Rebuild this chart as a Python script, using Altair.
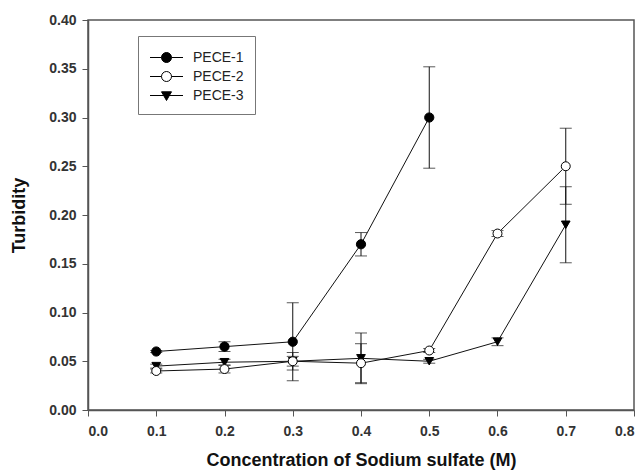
import altair as alt
import pandas as pd

# ---- data ----
series_names = ["PECE-1", "PECE-2", "PECE-3"]

pece1_x = [0.1, 0.2, 0.3, 0.4, 0.5]
pece1_y = [0.060, 0.065, 0.070, 0.170, 0.300]
pece1_err = [0.001, 0.005, 0.040, 0.012, 0.052]

pece2_x = [0.1, 0.2, 0.3, 0.4, 0.5, 0.6, 0.7]
pece2_y = [0.040, 0.042, 0.050, 0.048, 0.061, 0.181, 0.250]
pece2_err = [0.002, 0.004, 0.009, 0.020, 0.002, 0.003, 0.039]

pece3_x = [0.1, 0.2, 0.3, 0.4, 0.5, 0.6, 0.7]
pece3_y = [0.045, 0.049, 0.050, 0.053, 0.050, 0.070, 0.190]
pece3_err = [0.002, 0.003, 0.005, 0.026, 0.002, 0.004, 0.039]

x_ticks = [0.0, 0.1, 0.2, 0.3, 0.4, 0.5, 0.6, 0.7, 0.8]
y_ticks = [0.0, 0.05, 0.10, 0.15, 0.20, 0.25, 0.30, 0.35, 0.40]

rows = []
for name, xs, ys, es in [
    ("PECE-1", pece1_x, pece1_y, pece1_err),
    ("PECE-2", pece2_x, pece2_y, pece2_err),
    ("PECE-3", pece3_x, pece3_y, pece3_err),
]:
    for x, y, e in zip(xs, ys, es):
        rows.append({"series": name, "x": x, "y": y, "lo": y - e, "hi": y + e})
df = pd.DataFrame(rows)

caps = pd.concat([
    df[["series", "x", "lo"]].rename(columns={"lo": "cap"}),
    df[["series", "x", "hi"]].rename(columns={"hi": "cap"}),
])

FONT = "Liberation Sans"
INK = "#111111"

xscale = alt.Scale(domain=[0, 0.8], nice=False)
yscale = alt.Scale(domain=[0, 0.4], nice=False)

xenc = alt.X("x:Q", scale=xscale,
             axis=alt.Axis(values=x_ticks, format=".1f",
                           title="Concentration of Sodium sulfate (M)"))
yenc = alt.Y("y:Q", scale=yscale,
             axis=alt.Axis(values=y_ticks, format=".2f", title="Turbidity"))

base = alt.Chart(df)

lines = base.mark_line(color=INK, strokeWidth=1).encode(
    x=xenc, y=yenc, detail="series:N")

rules = base.mark_rule(color=INK, strokeWidth=1).encode(
    x="x:Q", y="lo:Q", y2="hi:Q")

cap_marks = alt.Chart(caps).mark_tick(
    orient="horizontal", size=12, thickness=1, color=INK).encode(
    x="x:Q", y="cap:Q")

pts1 = base.transform_filter(alt.datum.series == "PECE-1").mark_point(
    shape="circle", filled=True, fill="black", stroke="black",
    strokeWidth=1, size=85, opacity=1).encode(x="x:Q", y="y:Q")
pts3 = base.transform_filter(alt.datum.series == "PECE-3").mark_point(
    shape="triangle-down", filled=True, fill="black", stroke="black",
    strokeWidth=1, size=75, opacity=1).encode(x="x:Q", y="y:Q")
pts2 = base.transform_filter(alt.datum.series == "PECE-2").mark_point(
    shape="circle", filled=True, fill="white", stroke="black",
    strokeWidth=1, size=80, opacity=1).encode(x="x:Q", y="y:Q")

# legend symbols: line segment with marker (custom paths)
s = 0.7
r = 0.5
L = 1.65
circ = (f"M{-L+s},0H{s-r}M{s+r},0H{L+s}"
        f"M{s+r},0A{r},{r} 0 1,1 {s-r},0A{r},{r} 0 1,1 {s+r},0Z")
tri = (f"M{-L+s},0H{L+s}"
       f"M{s-0.5},-0.37L{s+0.5},-0.37L{s},0.5Z")
legend_paths = [circ, circ, tri]
legend_fills = ["black", "white", "black"]
legend_strokes = ["black", "black", "black"]


def make_legend():
    return alt.Legend(title=None, orient="none",
                      legendX=50, legendY=16,
                      strokeColor="#777", padding=11,
                      symbolSize=400, rowPadding=1,
                      labelOffset=23, labelFont=FONT,
                      labelFontSize=14, labelColor="#222",
                      symbolStrokeColor="black",
                      symbolStrokeWidth=1)


legend_layer = base.transform_filter("false").mark_point(
    filled=True, stroke="black", strokeWidth=1, opacity=1).encode(
    x="x:Q", y="y:Q",
    shape=alt.Shape("series:N",
                    scale=alt.Scale(domain=series_names, range=legend_paths),
                    legend=make_legend()),
    fill=alt.Fill("series:N",
                  scale=alt.Scale(domain=series_names, range=legend_fills),
                  legend=make_legend()),
    stroke=alt.Stroke("series:N",
                      scale=alt.Scale(domain=series_names, range=legend_strokes),
                      legend=make_legend()),
)

chart = alt.layer(lines, rules, cap_marks, pts3, pts1, pts2, legend_layer).properties(
    width=546, height=390,
    autosize=alt.AutoSizeParams(type="none"),
    padding={"left": 80, "top": 12, "right": 2, "bottom": 60},
).configure_view(
    stroke="#555", strokeWidth=1.5
).configure_axis(
    grid=False,
    domainColor="#555", domainWidth=1.5,
    tickColor="#555", tickWidth=1, tickSize=6,
    labelFont=FONT, labelFontSize=14, labelFontWeight="bold", labelColor="#333",
    titleFont=FONT, titleFontSize=18, titleFontWeight="bold", titleColor="#111",
).configure_axisX(
    labelPadding=8, titlePadding=13,
).configure_axisY(
    labelPadding=6, titlePadding=20,
)

chart.save("out.html", embed_options={"renderer": "svg", "actions": False})
